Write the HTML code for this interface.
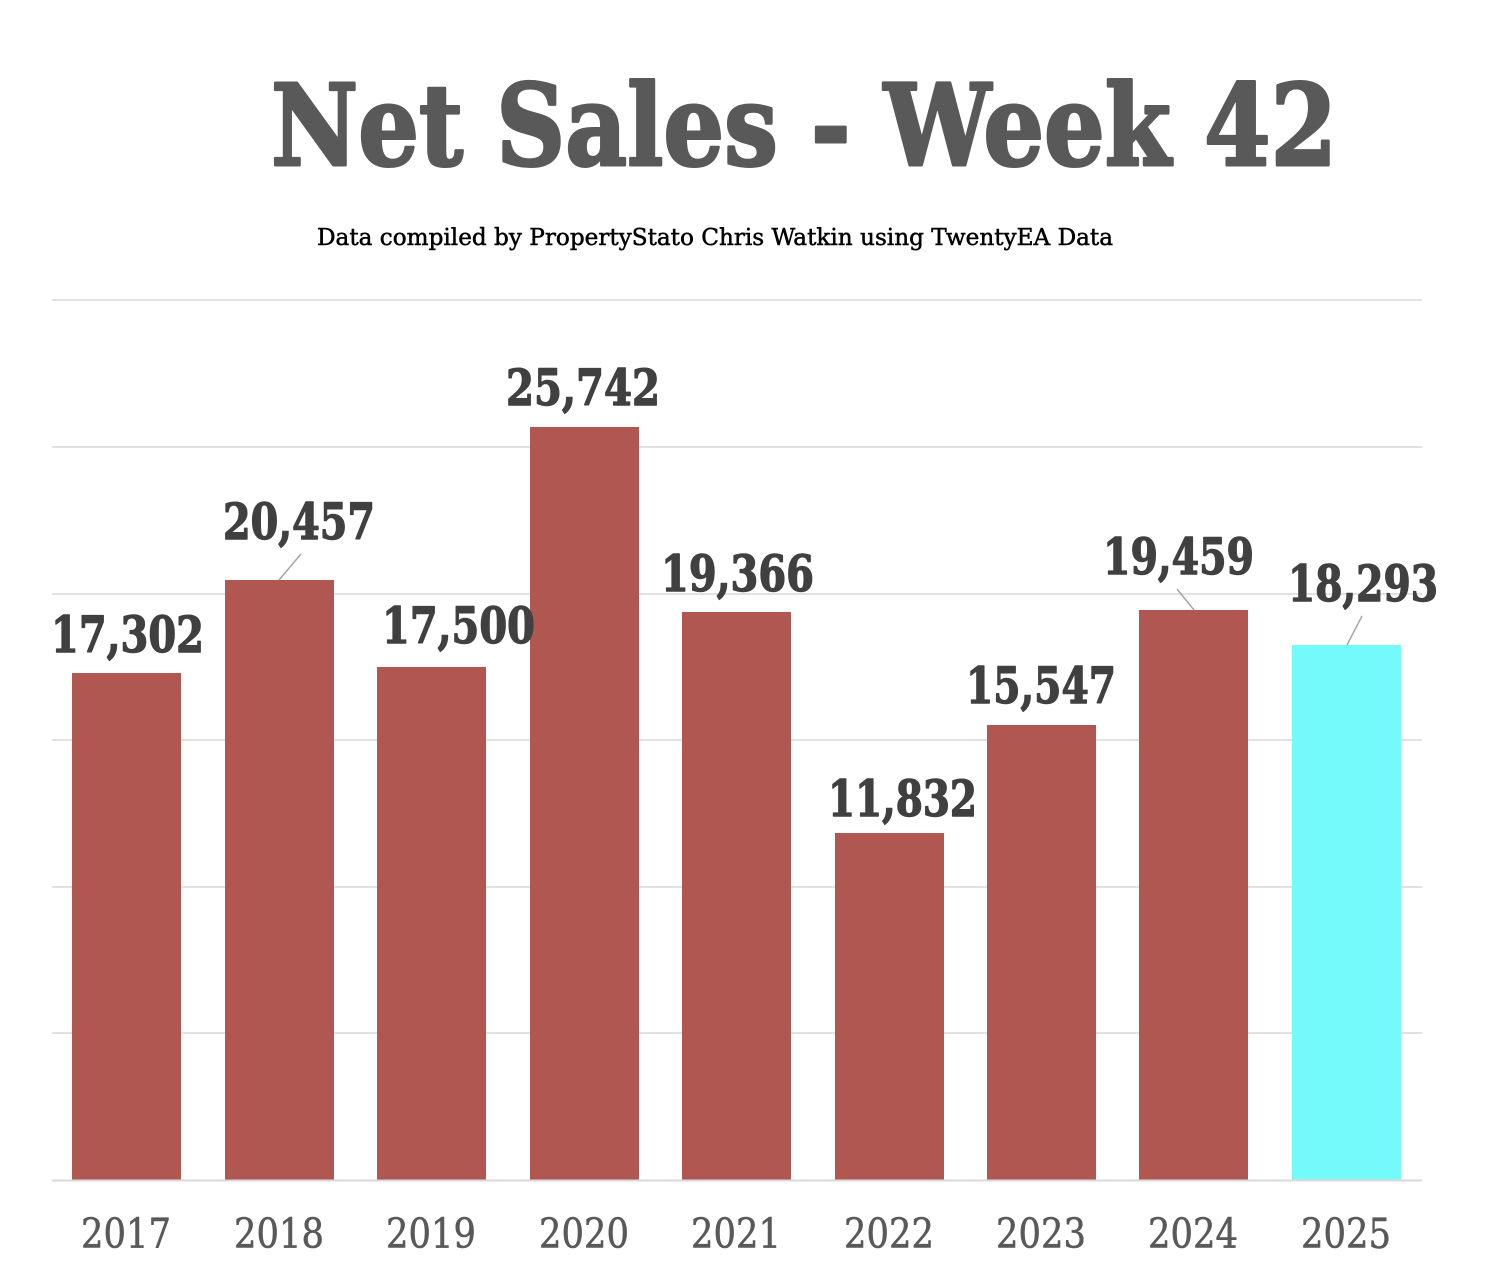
<!DOCTYPE html>
<html>
<head>
<meta charset="utf-8">
<style>
  html,body{margin:0;padding:0;background:#fff;}
  svg{display:block;}
</style>
</head>
<body>
<svg width="1486" height="1288" viewBox="0 0 1486 1288" xmlns="http://www.w3.org/2000/svg">
  <rect x="0" y="0" width="1486" height="1288" fill="#ffffff"/>
  <!-- Title -->
  <text x="271" y="165" font-family="'DejaVu Serif', 'Liberation Serif', serif" font-weight="bold" font-size="112" fill="#595959" stroke="#595959" stroke-width="3" stroke-linejoin="round" textLength="1066" lengthAdjust="spacingAndGlyphs">Net Sales - Week 42</text>
  <!-- Subtitle -->
  <text x="317" y="245" font-family="'DejaVu Serif', 'Liberation Serif', serif" font-size="23" fill="#000000" stroke="#000000" stroke-width="0.5" textLength="796" lengthAdjust="spacingAndGlyphs">Data compiled by PropertyStato Chris Watkin using TwentyEA Data</text>

  <!-- Gridlines -->
  <g stroke="#d9d9d9" stroke-width="1.5">
    <line x1="52" y1="300" x2="1422" y2="300"/>
    <line x1="52" y1="447" x2="1422" y2="447"/>
    <line x1="52" y1="594" x2="1422" y2="594"/>
    <line x1="52" y1="740" x2="1422" y2="740"/>
    <line x1="52" y1="887" x2="1422" y2="887"/>
    <line x1="52" y1="1033" x2="1422" y2="1033"/>
  </g>

  <!-- Bars -->
  <g fill="#b05752">
    <rect x="72" y="673" width="109" height="507"/>
    <rect x="225" y="580" width="109" height="600"/>
    <rect x="377" y="667" width="109" height="513"/>
    <rect x="530" y="427" width="109" height="753"/>
    <rect x="682" y="612" width="109" height="568"/>
    <rect x="835" y="833" width="109" height="347"/>
    <rect x="987" y="725" width="109" height="455"/>
    <rect x="1139" y="610" width="109" height="570"/>
  </g>
  <rect x="1292" y="645" width="109" height="535" fill="#74fafb"/>

  <!-- Axis -->
  <line x1="52" y1="1180.5" x2="1422" y2="1180.5" stroke="#d9d9d9" stroke-width="2"/>

  <!-- Leader lines -->
  <g stroke="#a6a6a6" stroke-width="1.5">
    <line x1="301" y1="554" x2="279" y2="580"/>
    <line x1="1177" y1="589" x2="1194" y2="610"/>
    <line x1="1362" y1="616" x2="1347" y2="645"/>
  </g>

  <!-- Value labels -->
  <g font-family="'DejaVu Serif', 'Liberation Serif', serif" font-weight="bold" font-size="50" fill="#404040" stroke="#404040" stroke-width="1.4" stroke-linejoin="round">
    <text x="51" y="652" textLength="153" lengthAdjust="spacingAndGlyphs">17,302</text>
    <text x="223" y="539" textLength="152" lengthAdjust="spacingAndGlyphs">20,457</text>
    <text x="382" y="643" textLength="153" lengthAdjust="spacingAndGlyphs">17,500</text>
    <text x="506" y="405" textLength="154" lengthAdjust="spacingAndGlyphs">25,742</text>
    <text x="661" y="591" textLength="153" lengthAdjust="spacingAndGlyphs">19,366</text>
    <text x="828" y="816" textLength="149" lengthAdjust="spacingAndGlyphs">11,832</text>
    <text x="966" y="703" textLength="150" lengthAdjust="spacingAndGlyphs">15,547</text>
    <text x="1103" y="574" textLength="151" lengthAdjust="spacingAndGlyphs">19,459</text>
    <text x="1288" y="601" textLength="150" lengthAdjust="spacingAndGlyphs">18,293</text>
  </g>

  <!-- Category labels -->
  <g font-family="'DejaVu Serif', 'Liberation Serif', serif" font-size="41" fill="#595959" stroke="#595959" stroke-width="0.6">
    <text x="81" y="1248" textLength="90" lengthAdjust="spacingAndGlyphs">2017</text>
    <text x="234" y="1248" textLength="90" lengthAdjust="spacingAndGlyphs">2018</text>
    <text x="386" y="1248" textLength="90" lengthAdjust="spacingAndGlyphs">2019</text>
    <text x="539" y="1248" textLength="90" lengthAdjust="spacingAndGlyphs">2020</text>
    <text x="691" y="1248" textLength="90" lengthAdjust="spacingAndGlyphs">2021</text>
    <text x="844" y="1248" textLength="90" lengthAdjust="spacingAndGlyphs">2022</text>
    <text x="996" y="1248" textLength="90" lengthAdjust="spacingAndGlyphs">2023</text>
    <text x="1148" y="1248" textLength="90" lengthAdjust="spacingAndGlyphs">2024</text>
    <text x="1301" y="1248" textLength="90" lengthAdjust="spacingAndGlyphs">2025</text>
  </g>
</svg>
</body>
</html>
